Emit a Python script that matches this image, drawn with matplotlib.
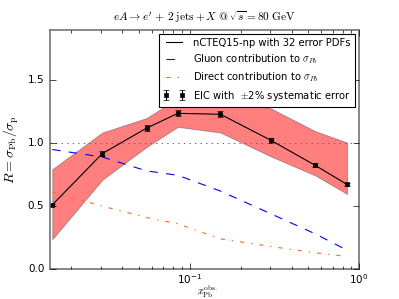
import matplotlib
matplotlib.use("Agg")
import matplotlib.pyplot as plt
import numpy as np

plt.style.use("classic")
plt.rcParams["mathtext.fontset"] = "cm"
plt.rcParams["font.family"] = ["DejaVu Sans"]

x = [0.0155, 0.0306, 0.0558, 0.0853, 0.152, 0.301, 0.551, 0.85]
ratio = [0.51, 0.918, 1.12, 1.237, 1.23, 1.024, 0.824, 0.672]
band_upper = [0.793, 1.085, 1.20, 1.357, 1.35, 1.277, 1.096, 1.005]
band_lower = [0.237, 0.71, 0.97, 1.13, 1.085, 0.896, 0.744, 0.597]
gluon = [0.95, 0.89, 0.78, 0.745, 0.62, 0.44, 0.28, 0.15]
direct = [0.61, 0.50, 0.41, 0.36, 0.24, 0.18, 0.13, 0.10]
sys_err = 0.02

fig = plt.figure(figsize=(3.99, 2.99), dpi=100)
ax = fig.add_subplot(111)

ax.fill_between(x, band_lower, band_upper, facecolor="red", alpha=0.5,
                edgecolor="0.3", linewidth=0.6)
ax.plot(x, ratio, color="black", lw=0.8, label="nCTEQ15-np with 32 error PDFs")
ax.plot(x, gluon, color="blue", ls="--", lw=0.8, label=r"Gluon contribution to $\sigma_{Pb}$")
ax.plot(x, direct, color="#ff6a1a", ls="-.", lw=0.8, label=r"Direct contribution to $\sigma_{Pb}$")
ax.errorbar(x, ratio, yerr=[r * sys_err for r in ratio], fmt="s", color="black",
            markersize=3, capsize=2, elinewidth=0.8, label=r"EIC with  $\pm$2% systematic error")
ax.axhline(1.0, color="0.4", ls=":", lw=0.7)

ax.set_xscale("log")
ax.set_xlim(0.015, 1.0)
ax.set_ylim(0.0, 1.9)
ax.set_yticks([0.0, 0.5, 1.0, 1.5])
ax.tick_params(labelsize=7.5)
ax.tick_params(axis="x", pad=2.5)
for s in ax.spines.values():
    s.set_edgecolor("0.45")
    s.set_linewidth(1.2)

ax.set_title(r"$eA \rightarrow e' \,+\, 2\;\mathrm{jets} + X \;@\; \sqrt{s} = 80\;\mathrm{GeV}$",
             fontsize=8.2, y=1.01)
ax.set_xlabel(r"$x_{\rm Pb}^{\rm obs.}$", fontsize=7.5)
ax.xaxis.set_label_coords(0.51, -0.062)
ax.set_ylabel(r"$R = \sigma_{\rm Pb}/\sigma_{\rm p}$", fontsize=10)

leg = ax.legend(loc="upper right", fontsize=7.2, numpoints=2, handlelength=2.2,
                borderaxespad=0.4, labelspacing=0.45, fancybox=False)
leg.get_frame().set_linewidth(0.8)

fig.savefig("out.png", dpi=100)
